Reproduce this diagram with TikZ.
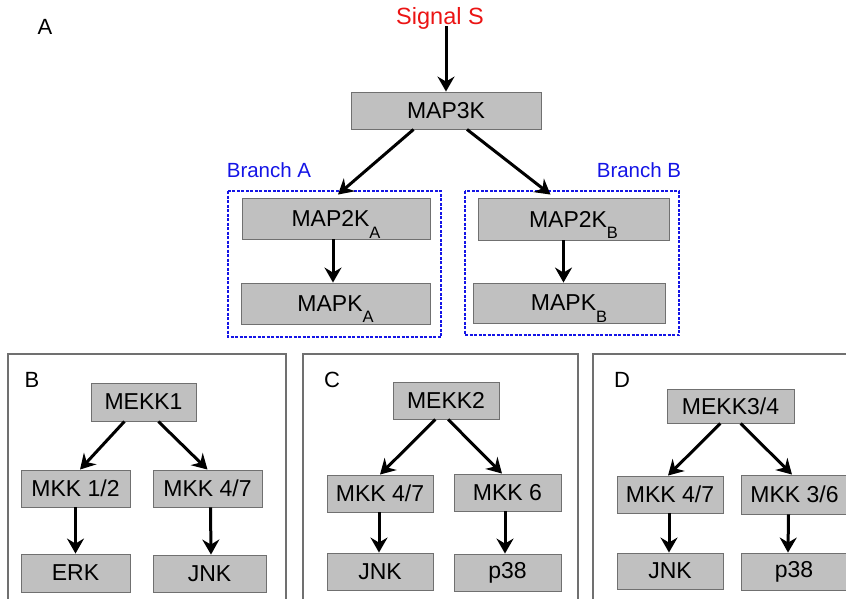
\documentclass[tikz,border=0pt]{standalone}
\usepackage{fontspec}
\setmainfont{Liberation Sans}
\usetikzlibrary{positioning, calc, arrows.meta}
\definecolor{boxgray}{RGB}{192,192,192}
\definecolor{edgegray}{RGB}{112,112,112}
\definecolor{sigred}{RGB}{235,20,20}
\definecolor{brblue}{RGB}{20,20,230}
\newcommand{\subl}[1]{\raisebox{-0.5em}[0pt][0pt]{\fontsize{16.5}{16}\selectfont #1}}

\begin{document}
\begin{tikzpicture}[x=1pt, y=-1pt,
    kin/.style={draw=edgegray, fill=boxgray, line width=0.9pt, inner sep=0pt, font=\fontsize{23}{25}\selectfont},
    arr/.style={-{Stealth[length=15pt,width=17pt,inset=5pt]}, line width=3pt},
    brframe/.style={draw=brblue, line width=2.6pt, dash pattern=on 3pt off 1.5pt},
    panel/.style={draw=edgegray, line width=1.1pt},
    plabel/.style={font=\fontsize{22}{24}\selectfont, inner sep=0pt}]
    \useasboundingbox (0,0) rectangle (846,598);
    \clip (0,0) rectangle (846,598);

    % Panel A: generic cascade
    \node[plabel] (lblA) at (45,27) {A};
    \node[font=\fontsize{23.5}{25}\selectfont, text=sigred, inner sep=0pt] (sig) at (440,18) {Signal S};
    \node[kin, minimum width=190pt, minimum height=37pt] (map3k) at (446,110.5) {MAP3K};
    \node[kin, minimum width=188pt, minimum height=41pt] (map2ka) at (336,218.5) {MAP2K\subl{A}};
    \node[kin, minimum width=189pt, minimum height=41pt] (mapka) at (335.5,303.5) {MAPK\subl{A}};
    \node[kin, minimum width=191pt, minimum height=42pt] (map2kb) at (573.5,219) {MAP2K\subl{B}};
    \node[kin, minimum width=192pt, minimum height=40pt] (mapkb) at (569,303) {MAPK\subl{B}};

    % Branch frames
    \draw[brframe] (228,191) rectangle (441,337);
    \draw[brframe] (465,191) rectangle (679,335);
    \node[font=\fontsize{20.5}{24}\selectfont, text=brblue, inner sep=0pt] (bra) at (269,170) {Branch A};
    \node[font=\fontsize{20.5}{24}\selectfont, text=brblue, inner sep=0pt] (brb) at (639,170) {Branch B};

    \draw[arr] ($(sig.south)+(6,-3)$) -- (map3k.north);
    \draw[arr] ($(map3k.south west)!0.33!(map3k.south east)$) -- ($(map2ka.north)+(2,-3)$);
    \draw[arr] ($(map3k.south west)!0.61!(map3k.south east)$) -- ($(map2kb.north)+(-23,-3)$);
    \draw[arr] ($(map2ka.south)+(-3,0)$) -- ($(mapka.north)+(-2.5,0)$);
    \draw[arr] ($(map2kb.south)+(-10,0)$) -- ($(mapkb.north)+(-5.5,0)$);

    % Panel B: MEKK1
    \draw[panel] (8,354) rectangle (286,620);
    \node[plabel] (lblB) at (32,380) {B};
    \node[kin, minimum width=105pt, minimum height=38pt] (mekk1) at (143.5,402) {MEKK1};
    \node[kin, minimum width=109pt, minimum height=37pt] (mkkb1) at (75.5,488.5) {MKK 1/2};
    \node[kin, minimum width=109pt, minimum height=37pt] (mkkb2) at (207.5,488.5) {MKK 4/7};
    \node[kin, minimum width=109pt, minimum height=38pt] (erk) at (75.5,573) {ERK};
    \node[kin, minimum width=113pt, minimum height=37pt] (jnkb) at (209.5,573.5) {JNK};
    \draw[arr] ($(mekk1.south west)!0.32!(mekk1.south east)$) -- ($(mkkb1.north)+(4.5,0)$);
    \draw[arr] ($(mekk1.south west)!0.64!(mekk1.south east)$) -- (mkkb2.north);
    \draw[arr] (mkkb1.south) -- (mkkb1.south |- erk.north);
    \draw[arr] ($(mkkb2.south)+(3,0)$) -- ($(jnkb.north)+(1.5,0)$);

    % Panel C: MEKK2
    \draw[panel] (303,354) rectangle (578,620);
    \node[plabel] (lblC) at (332,380) {C};
    \node[kin, minimum width=106pt, minimum height=37pt] (mekk2) at (446,400.5) {MEKK2};
    \node[kin, minimum width=106pt, minimum height=37pt] (mkkc1) at (380,493.5) {MKK 4/7};
    \node[kin, minimum width=107pt, minimum height=37pt] (mkkc2) at (507.5,492.5) {MKK 6};
    \node[kin, minimum width=106pt, minimum height=37pt] (jnkc) at (380,571.5) {JNK};
    \node[kin, minimum width=107pt, minimum height=37pt] (p38c) at (507.5,572.5) {p38};
    \draw[arr] ($(mekk2.south west)!0.4!(mekk2.south east)$) -- (mkkc1.north);
    \draw[arr] ($(mekk2.south west)!0.52!(mekk2.south east)$) -- ($(mkkc2.north)+(-5.5,0)$);
    \draw[arr] ($(mkkc1.south)+(-1,0)$) -- ($(jnkc.north)+(-1,0)$);
    \draw[arr] ($(mkkc2.south)+(-2.5,0)$) -- ($(p38c.north)+(-2.5,0)$);

    % Panel D: MEKK3/4
    \draw[panel] (593,354) rectangle (870,620);
    \node[plabel] (lblD) at (622,380) {D};
    \node[kin, minimum width=127pt, minimum height=34pt] (mekk34) at (730.5,406) {MEKK3/4};
    \node[kin, minimum width=106pt, minimum height=37pt] (mkkd1) at (670,494.5) {MKK 4/7};
    \node[kin, minimum width=107pt, minimum height=39pt] (mkkd2) at (794.5,494.5) {MKK 3/6};
    \node[kin, minimum width=106pt, minimum height=36pt] (jnkd) at (670,571) {JNK};
    \node[kin, minimum width=106pt, minimum height=37pt] (p38d) at (794,571.5) {p38};
    \draw[arr] ($(mekk34.south west)!0.42!(mekk34.south east)$) -- ($(mkkd1.north)+(-2,0)$);
    \draw[arr] ($(mekk34.south west)!0.58!(mekk34.south east)$) -- ($(mkkd2.north)+(-2.5,0)$);
    \draw[arr] ($(mkkd1.south)+(-1,0)$) -- ($(jnkd.north)+(-1,0)$);
    \draw[arr] ($(mkkd2.south)+(-6,0)$) -- ($(p38d.north)+(-6,0)$);
\end{tikzpicture}
\end{document}
